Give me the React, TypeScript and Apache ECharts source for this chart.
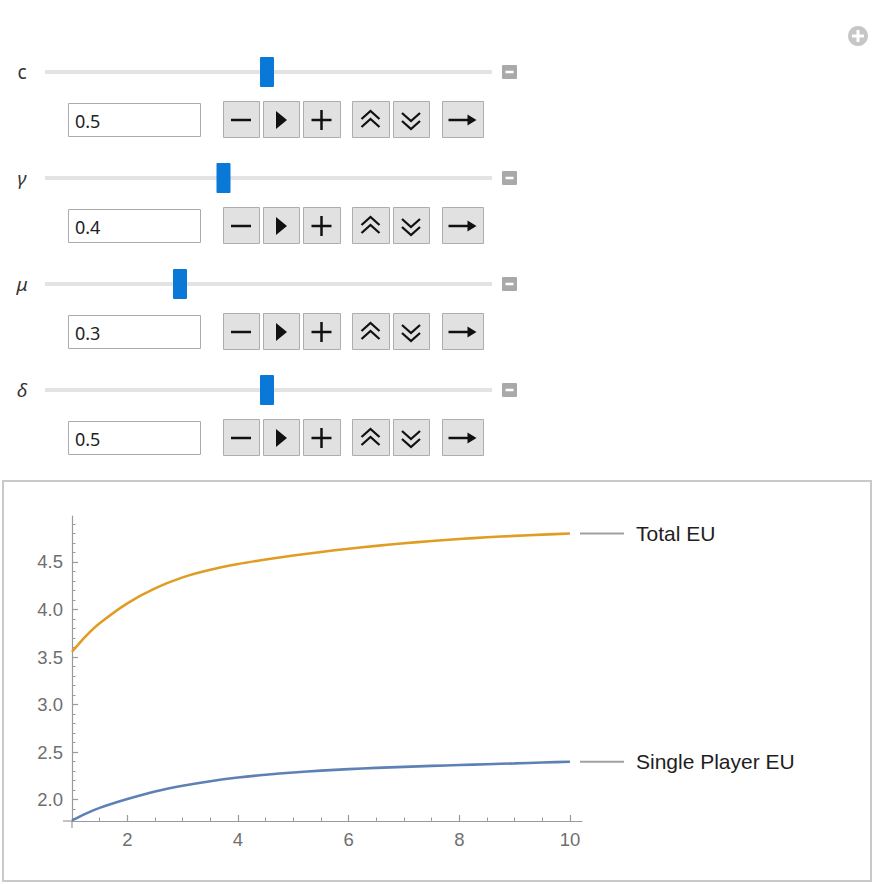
import React, { useEffect, useRef } from "react";
import * as echarts from "echarts";

// ---- data ----
const paramNames = ["c", "γ", "μ", "δ"];
const paramItalic = [false, true, true, true];
const paramValues = [0.5, 0.4, 0.3, 0.5];

const xValues = [1, 1.25, 1.5, 2, 2.5, 3, 3.5, 4, 4.5, 5, 5.5, 6, 6.5, 7, 7.5, 8, 8.5, 9, 9.5, 10];
const totalEU = [3.555, 3.72, 3.855, 4.065, 4.222, 4.338, 4.418, 4.478, 4.526, 4.568, 4.606, 4.64, 4.67, 4.697, 4.721, 4.742, 4.76, 4.775, 4.788, 4.8];
const singleEU = [1.78, 1.852, 1.912, 2.005, 2.085, 2.145, 2.193, 2.231, 2.261, 2.285, 2.304, 2.32, 2.333, 2.344, 2.354, 2.363, 2.372, 2.38, 2.389, 2.398];
const seriesNames = ["Single Player EU", "Total EU"];

const xMajorTicks = [2, 4, 6, 8, 10];
const xMinorTicks = [1.5, 2.5, 3, 3.5, 4.5, 5, 5.5, 6.5, 7, 7.5, 8.5, 9, 9.5];
const yMajorTicks = [2.0, 2.5, 3.0, 3.5, 4.0, 4.5];
const yMinorTicks = [1.8, 1.9, 2.1, 2.2, 2.3, 2.4, 2.6, 2.7, 2.8, 2.9, 3.1, 3.2, 3.3, 3.4, 3.6, 3.7, 3.8, 3.9, 4.1, 4.2, 4.3, 4.4, 4.6, 4.7, 4.8, 4.9];

const X_MIN = 1;
const X_MAX = 10.217;
const Y_MIN = 1.774;
const Y_MAX = 4.984;

const AXIS_COLOR = "#9a9a9a";
const LABEL_COLOR = "#6f6f6f";
const BLUE = "#5e81b5";
const ORANGE = "#e19c24";

function buildControls(): any[] {
  const g: any[] = [];
  // top-right plus circle
  g.push({ type: "circle", shape: { cx: 858, cy: 36, r: 10 }, style: { fill: "#c6c6c6" } });
  g.push({ type: "line", shape: { x1: 852, y1: 36, x2: 864, y2: 36 }, style: { stroke: "#fff", lineWidth: 3 } });
  g.push({ type: "line", shape: { x1: 858, y1: 30, x2: 858, y2: 42 }, style: { stroke: "#fff", lineWidth: 3 } });

  const btnXs = [
    [223, 259],
    [263, 299],
    [303, 340],
    [352, 389],
    [393, 429],
    [442, 483],
  ];

  for (let i = 0; i < paramNames.length; i++) {
    const sy = 72 + i * 106;
    const by = sy + 48;
    // label
    g.push({
      type: "text",
      style: {
        text: paramNames[i],
        x: 22,
        y: sy,
        fill: "#333",
        font: (paramItalic[i] ? "italic " : "") + "19px 'Noto Sans', sans-serif",
        align: "center",
        verticalAlign: "middle",
        textAlign: "center",
        textVerticalAlign: "middle",
      },
    });
    // track
    g.push({ type: "rect", shape: { x: 45, y: sy - 2, width: 447, height: 4 }, style: { fill: "#e3e3e3" } });
    // thumb
    const tx = 49.5 + paramValues[i] * 435;
    g.push({ type: "rect", shape: { x: tx - 7, y: sy - 15, width: 14, height: 30, r: 1 }, style: { fill: "#0a78d7" } });
    // minus box
    g.push({ type: "rect", shape: { x: 502, y: sy - 7, width: 15, height: 14, r: 1 }, style: { fill: "#a9a9a9" } });
    g.push({ type: "line", shape: { x1: 505.5, y1: sy, x2: 513.5, y2: sy }, style: { stroke: "#fff", lineWidth: 2.5 } });
    // input box
    g.push({ type: "rect", shape: { x: 68.5, y: by - 16.5, width: 132, height: 33 }, style: { fill: "#fff", stroke: "#ababab", lineWidth: 1 } });
    g.push({
      type: "text",
      style: {
        text: String(paramValues[i]),
        x: 75,
        y: by + 1,
        fill: "#222",
        font: "18px 'Noto Sans', sans-serif",
        verticalAlign: "middle",
        textVerticalAlign: "middle",
      },
    });
    // buttons
    btnXs.forEach(([x1, x2], k) => {
      g.push({
        type: "rect",
        shape: { x: x1 + 0.5, y: by - 18.5, width: x2 - x1, height: 36 },
        style: { fill: "#e1e1e1", stroke: "#adadad", lineWidth: 1 },
      });
      const cx = (x1 + x2) / 2;
      const cy = by;
      const st = { stroke: "#111", lineWidth: 2.5, fill: "none" };
      const ch = { stroke: "#111", lineWidth: 2.3, fill: "none" };
      if (k === 0) {
        g.push({ type: "line", shape: { x1: cx - 10, y1: cy, x2: cx + 10, y2: cy }, style: st });
      } else if (k === 1) {
        g.push({ type: "polygon", shape: { points: [[cx - 5, cy - 9], [cx - 5, cy + 9], [cx + 6, cy]] }, style: { fill: "#111" } });
      } else if (k === 2) {
        g.push({ type: "line", shape: { x1: cx - 10, y1: cy, x2: cx + 10, y2: cy }, style: st });
        g.push({ type: "line", shape: { x1: cx, y1: cy - 10, x2: cx, y2: cy + 10 }, style: st });
      } else if (k === 3) {
        g.push({ type: "polyline", shape: { points: [[cx - 9, cy - 1], [cx, cy - 9], [cx + 9, cy - 1]] }, style: ch });
        g.push({ type: "polyline", shape: { points: [[cx - 9, cy + 7], [cx, cy - 1], [cx + 9, cy + 7]] }, style: ch });
      } else if (k === 4) {
        g.push({ type: "polyline", shape: { points: [[cx - 9, cy - 7], [cx, cy + 1], [cx + 9, cy - 7]] }, style: ch });
        g.push({ type: "polyline", shape: { points: [[cx - 9, cy + 1], [cx, cy + 9], [cx + 9, cy + 1]] }, style: ch });
      } else {
        g.push({ type: "line", shape: { x1: cx - 14, y1: cy, x2: cx + 7, y2: cy }, style: st });
        g.push({ type: "polygon", shape: { points: [[cx + 5, cy - 5.5], [cx + 14, cy], [cx + 5, cy + 5.5]] }, style: { fill: "#111" } });
      }
    });
  }
  // chart frame
  g.push({ type: "rect", shape: { x: 3, y: 481, width: 868, height: 400 }, style: { fill: "none", stroke: "#c9c9c9", lineWidth: 2 } });
  return g;
}

export default function App() {
  const ref = useRef<HTMLDivElement>(null);
  useEffect(() => {
    if (!ref.current) return;
    const chart = echarts.init(ref.current, null, { renderer: "svg" });
    const baseAxis = {
      type: "value",
      min: X_MIN,
      max: X_MAX,
      position: "bottom",
      splitLine: { show: false },
    };
    const labelFont = {
      color: LABEL_COLOR,
      fontSize: 18.5,
      fontFamily: "'Liberation Sans', Arial, sans-serif",
    };
    const option: any = {
      animation: false,
      backgroundColor: "#fff",
      grid: { left: 72, top: 516, width: 510, height: 305, containLabel: false },
      xAxis: [
        {
          ...baseAxis,
          axisLine: { show: true, onZero: false, lineStyle: { color: AXIS_COLOR, width: 1.2 } },
          axisTick: { show: true, inside: true, length: 6, customValues: xMajorTicks, lineStyle: { color: AXIS_COLOR, width: 1.2 } },
          axisLabel: {
            show: true,
            customValues: xMajorTicks,
            margin: 9,
            ...labelFont,
            formatter: (v: number) => String(v),
          },
        },
        {
          ...baseAxis,
          axisLine: { show: false, onZero: false },
          axisTick: { show: true, inside: true, length: 3.5, customValues: xMinorTicks, lineStyle: { color: AXIS_COLOR, width: 1 } },
          axisLabel: { show: false },
        },
      ],
      yAxis: [
        {
          type: "value",
          min: Y_MIN,
          max: Y_MAX,
          position: "left",
          splitLine: { show: false },
          axisLine: { show: true, onZero: false, lineStyle: { color: AXIS_COLOR, width: 1.2 } },
          axisTick: { show: true, inside: true, length: 6, customValues: yMajorTicks, lineStyle: { color: AXIS_COLOR, width: 1.2 } },
          axisLabel: {
            show: true,
            customValues: yMajorTicks,
            margin: 9,
            ...labelFont,
            formatter: (v: number) => v.toFixed(1),
          },
        },
        {
          type: "value",
          min: Y_MIN,
          max: Y_MAX,
          position: "left",
          splitLine: { show: false },
          axisLine: { show: false, onZero: false },
          axisTick: { show: true, inside: true, length: 3.5, customValues: yMinorTicks, lineStyle: { color: AXIS_COLOR, width: 1 } },
          axisLabel: { show: false },
        },
      ],
      series: [
        {
          name: seriesNames[0],
          type: "line",
          xAxisIndex: 0,
          yAxisIndex: 0,
          showSymbol: false,
          smooth: 0.25,
          data: xValues.map((x, i) => [x, singleEU[i]]),
          lineStyle: { color: BLUE, width: 2.6 },
          itemStyle: { color: BLUE },
          z: 3,
        },
        {
          name: seriesNames[1],
          type: "line",
          xAxisIndex: 0,
          yAxisIndex: 0,
          showSymbol: false,
          smooth: 0.25,
          data: xValues.map((x, i) => [x, totalEU[i]]),
          lineStyle: { color: ORANGE, width: 2.6 },
          itemStyle: { color: ORANGE },
          z: 3,
        },
      ],
    };
    chart.setOption(option);

    const g = buildControls();
    // axis extensions beyond the origin, as in the reference
    const origin = chart.convertToPixel({ xAxisIndex: 0, yAxisIndex: 0 }, [X_MIN, Y_MIN]) as number[];
    g.push({ type: "line", shape: { x1: origin[0], y1: origin[1], x2: origin[0], y2: origin[1] + 7 }, style: { stroke: AXIS_COLOR, lineWidth: 1.2 } });
    g.push({ type: "line", shape: { x1: origin[0] - 9, y1: origin[1], x2: origin[0], y2: origin[1] }, style: { stroke: AXIS_COLOR, lineWidth: 1.2 } });

    // end labels with leader lines
    const lastX = xValues[xValues.length - 1];
    const ends = [
      { name: seriesNames[1], y: totalEU[totalEU.length - 1] },
      { name: seriesNames[0], y: singleEU[singleEU.length - 1] },
    ];
    ends.forEach((e) => {
      const p = chart.convertToPixel({ xAxisIndex: 0, yAxisIndex: 0 }, [lastX, e.y]) as number[];
      g.push({ type: "line", shape: { x1: p[0] + 10, y1: p[1], x2: p[0] + 54, y2: p[1] }, style: { stroke: "#a0a0a0", lineWidth: 2 } });
      g.push({
        type: "text",
        style: {
          text: e.name,
          x: p[0] + 66,
          y: p[1],
          fill: "#1e1e1e",
          font: "21px 'Liberation Sans', Arial, sans-serif",
          verticalAlign: "middle",
          textVerticalAlign: "middle",
        },
      });
    });
    chart.setOption({ graphic: g });

    return () => chart.dispose();
  }, []);
  return <div ref={ref} style={{ position: "absolute", left: 0, top: 0, width: 874, height: 884 }} />;
}
